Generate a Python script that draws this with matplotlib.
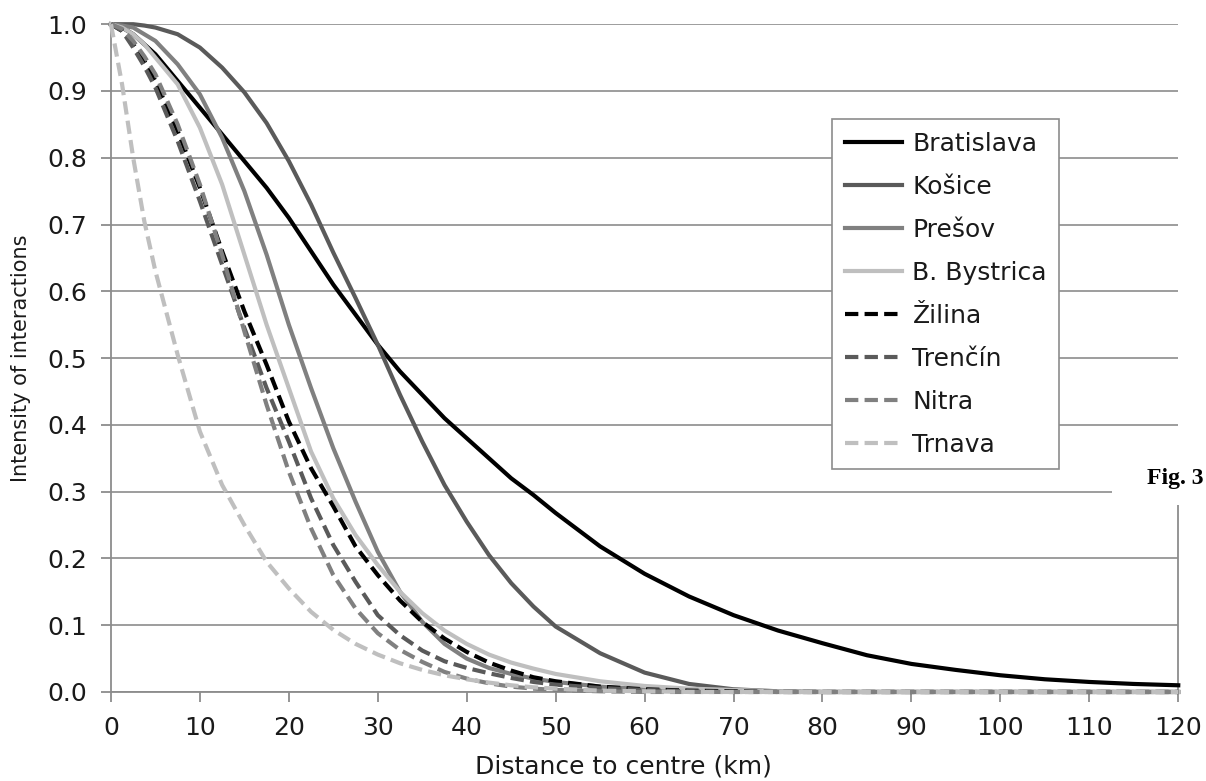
import matplotlib.pyplot as plt
import numpy as np

plt.rcParams['font.family'] = ['DejaVu Sans']

# Distance to centre (km)
distance = [0, 1.25, 2.5, 3.75, 5, 7.5, 10, 12.5, 15, 17.5, 20, 22.5, 25, 27.5, 30,
            32.5, 35, 37.5, 40, 42.5, 45, 47.5, 50, 55, 60, 65, 70, 75, 80, 85, 90,
            95, 100, 105, 110, 115, 120]

# Intensity of interactions
bratislava = [1.0, 0.995, 0.985, 0.97, 0.955, 0.915, 0.875, 0.835, 0.795, 0.755, 0.71, 0.66,
              0.61, 0.565, 0.52, 0.48, 0.445, 0.41, 0.38, 0.35, 0.32, 0.295, 0.268, 0.218,
              0.177, 0.143, 0.115, 0.092, 0.073, 0.055, 0.042, 0.033, 0.025, 0.019, 0.015,
              0.012, 0.010]
kosice = [1.0, 1.0, 1.0, 0.998, 0.995, 0.985, 0.965, 0.935, 0.898, 0.852, 0.795, 0.73,
          0.658, 0.59, 0.52, 0.445, 0.375, 0.31, 0.255, 0.205, 0.163, 0.128, 0.098, 0.058,
          0.029, 0.012, 0.004, 0.001, 0, 0, 0, 0, 0, 0, 0, 0, 0]
presov = [1.0, 0.998, 0.995, 0.985, 0.975, 0.94, 0.895, 0.83, 0.75, 0.655, 0.55, 0.455,
          0.365, 0.285, 0.21, 0.15, 0.105, 0.072, 0.05, 0.036, 0.027, 0.02, 0.015, 0.008,
          0.004, 0.002, 0.001, 0, 0, 0, 0, 0, 0, 0, 0, 0, 0]
bystrica = [1.0, 0.995, 0.985, 0.97, 0.95, 0.91, 0.845, 0.76, 0.655, 0.55, 0.455, 0.36,
            0.29, 0.235, 0.19, 0.15, 0.118, 0.092, 0.072, 0.056, 0.044, 0.035, 0.027, 0.016,
            0.009, 0.005, 0.003, 0.001, 0, 0, 0, 0, 0, 0, 0, 0, 0]
zilina = [1.0, 0.99, 0.97, 0.945, 0.915, 0.84, 0.755, 0.66, 0.57, 0.49, 0.405, 0.335,
          0.278, 0.218, 0.175, 0.137, 0.105, 0.08, 0.06, 0.044, 0.032, 0.022, 0.016, 0.008,
          0.004, 0.002, 0.001, 0, 0, 0, 0, 0, 0, 0, 0, 0, 0]
trencin = [1.0, 0.99, 0.965, 0.937, 0.905, 0.825, 0.735, 0.64, 0.545, 0.455, 0.375, 0.29,
           0.22, 0.165, 0.115, 0.085, 0.062, 0.046, 0.036, 0.028, 0.021, 0.015, 0.011, 0.006,
           0.003, 0.001, 0, 0, 0, 0, 0, 0, 0, 0, 0, 0, 0]
nitra = [1.0, 0.993, 0.975, 0.952, 0.925, 0.85, 0.76, 0.655, 0.54, 0.43, 0.33, 0.245,
         0.175, 0.125, 0.088, 0.063, 0.045, 0.03, 0.02, 0.013, 0.008, 0.005, 0.003, 0.001,
         0, 0, 0, 0, 0, 0, 0, 0, 0, 0, 0, 0, 0]
trnava = [1.0, 0.91, 0.80, 0.705, 0.63, 0.505, 0.39, 0.31, 0.25, 0.195, 0.155, 0.12,
          0.093, 0.072, 0.056, 0.043, 0.033, 0.025, 0.019, 0.014, 0.010, 0.007, 0.005, 0.002,
          0.001, 0, 0, 0, 0, 0, 0, 0, 0, 0, 0, 0, 0]

labels = ['Bratislava', 'Košice', 'Prešov', 'B. Bystrica', 'Žilina', 'Trenčín', 'Nitra', 'Trnava']
series = [bratislava, kosice, presov, bystrica, zilina, trencin, nitra, trnava]
colors = ['#000000', '#5a5a5a', '#808080', '#bfbfbf'] * 2
dashed = [False] * 4 + [True] * 4

fig = plt.figure(figsize=(12.06, 7.81), dpi=100)
ax = fig.add_axes([0.092, 0.114, 0.885, 0.855])

for vals, lab, col, dsh in zip(series, labels, colors, dashed):
    ls = (0, (3.2, 1.5)) if dsh else '-'
    ax.plot(distance, vals, color=col, lw=3.0, linestyle=ls, label=lab,
            clip_on=False, zorder=3)

ax.set_xlim(0, 120)
ax.set_ylim(0, 1.0)
ax.set_xticks(np.arange(0, 121, 10))
ax.set_yticks(np.arange(0, 1.01, 0.1))
ax.set_yticklabels(['%.1f' % v for v in np.arange(0, 1.01, 0.1)])

# Grid and axes in Excel-like grey
ax.grid(axis='y', color='#8c8c8c', lw=1.2)
ax.set_axisbelow(True)
ax.spines['top'].set_visible(False)
ax.spines['right'].set_color('#8c8c8c')
ax.spines['right'].set_bounds(0, 0.28)
ax.spines['left'].set_color('#8c8c8c')
ax.spines['bottom'].set_color('#8c8c8c')
for s in ['left', 'bottom', 'right']:
    ax.spines[s].set_linewidth(1.3)
ax.tick_params(axis='both', colors='#8c8c8c', length=7, width=1.3, labelsize=18,
               labelcolor='#1a1a1a')
ax.tick_params(axis='x', pad=10)
ax.tick_params(axis='y', pad=10)

ax.set_xlabel('Distance to centre (km)', fontsize=18, color='#1a1a1a')
ax.xaxis.set_label_coords(0.48, -0.094)
ax.set_ylabel('Intensity of interactions', fontsize=15, color='#1a1a1a', labelpad=12)

leg = ax.legend(loc='upper left', bbox_to_anchor=(0.676, 0.858), fontsize=18,
                frameon=True, fancybox=False, edgecolor='#8c8c8c', framealpha=1,
                handlelength=2.3, handletextpad=0.4, labelspacing=0.76,
                borderpad=0.5, borderaxespad=0)
leg.get_frame().set_linewidth(1.2)
for t in leg.get_texts():
    t.set_color('#1a1a1a')

# White patch with the caption fragment at the right edge
fig.patches.append(plt.Rectangle((0.922, 0.353), 0.08, 0.084, transform=fig.transFigure,
                                 facecolor='white', edgecolor='none', zorder=5))
fig.text(0.951, 0.387, 'Fig. 3', fontsize=17, fontweight='bold', zorder=6,
         family=['Liberation Serif', 'DejaVu Serif'], va='center', ha='left')

plt.savefig('out.png', dpi=100)
